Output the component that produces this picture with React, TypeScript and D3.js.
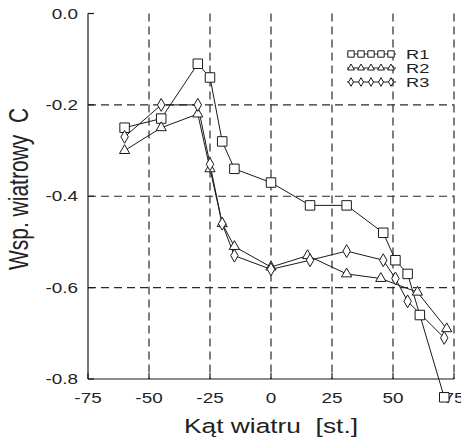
import React, { useEffect, useRef } from "react";
import * as d3 from "d3";

const xTicks = [-75, -50, -25, 0, 25, 50, 75];
const yTicks = [0, -0.2, -0.4, -0.6, -0.8];
const seriesNames = ["R1", "R2", "R3"];

const r1X = [-60, -45, -30, -25, -20, -15, 0, 16, 31, 46, 51, 56, 61, 71];
const r1Y = [-0.25, -0.23, -0.11, -0.14, -0.28, -0.34, -0.37, -0.42, -0.42, -0.48, -0.54, -0.57, -0.66, -0.84];
const r2X = [-60, -45, -30, -25, -20, -15, 0, 15, 31, 45, 60, 72];
const r2Y = [-0.3, -0.25, -0.22, -0.34, -0.46, -0.51, -0.555, -0.53, -0.57, -0.58, -0.61, -0.69];
const r3X = [-60, -45, -30, -25, -20, -15, 0, 16, 31, 46, 51, 56, 71];
const r3Y = [-0.27, -0.2, -0.2, -0.33, -0.46, -0.53, -0.56, -0.54, -0.52, -0.54, -0.58, -0.63, -0.71];

const FONT = "Arial, 'Liberation Sans', sans-serif";
const SX = 1.35; // reference text is stretched horizontally

const App = () => {
  const ref = useRef<SVGSVGElement>(null);

  useEffect(() => {
    const svg = d3.select(ref.current);
    svg.selectAll("*").remove();

    const left = 88, right = 454, top = 13.5, bottom = 379;
    const x = d3.scaleLinear().domain([-75, 75]).range([left, right]);
    const y = d3.scaleLinear().domain([-0.8, 0]).range([bottom, top]);
    const ink = "#1a1a1a";

    // grid
    const grid = svg.append("g").attr("stroke", "#2a2a2a").attr("stroke-width", 1.2).attr("stroke-dasharray", "8,5");
    grid.selectAll("line.v").data(xTicks.filter((t) => t > -75)).enter().append("line")
      .attr("x1", (d) => x(d)).attr("x2", (d) => x(d)).attr("y1", top).attr("y2", bottom);
    grid.selectAll("line.h").data(yTicks.filter((t) => t < 0 && t > -0.8)).enter().append("line")
      .attr("x1", left).attr("x2", right).attr("y1", (d) => y(d)).attr("y2", (d) => y(d));

    // axes
    const ax = svg.append("g").attr("stroke", ink).attr("stroke-width", 1.2);
    ax.append("line").attr("x1", left).attr("x2", left).attr("y1", top).attr("y2", bottom);
    ax.append("line").attr("x1", left).attr("x2", right).attr("y1", bottom).attr("y2", bottom);
    ax.selectAll("line.yt").data(yTicks).enter().append("line")
      .attr("x1", left).attr("x2", left + 6).attr("y1", (d) => y(d)).attr("y2", (d) => y(d));
    ax.selectAll("line.xt").data(xTicks).enter().append("line")
      .attr("x1", (d) => x(d)).attr("x2", (d) => x(d)).attr("y1", bottom).attr("y2", bottom - 6);

    const txt = (tx: number, ty: number, s: string, size: number, anchor: string, rot = 0) =>
      svg.append("text")
        .attr("transform", `translate(${tx},${ty}) scale(${SX},1)` + (rot ? ` rotate(${rot})` : ""))
        .attr("text-anchor", anchor)
        .style("font-family", FONT)
        .style("font-size", `${size}px`)
        .style("white-space", "pre")
        .style("fill", "#222")
        .text(s);

    yTicks.forEach((t) => txt(78, y(t) + 5, t.toFixed(1), 14, "end"));
    xTicks.forEach((t) => txt(x(t), 403, String(t), 14, "middle"));
    txt(271, 433, "Kąt wiatru  [st.]", 19.5, "middle");
    txt(28, 189, "Wsp. wiatrowy  C", 21, "middle", -90);

    const series = [
      { xs: r1X, ys: r1Y, sym: d3.symbolSquare, size: 90 },
      { xs: r2X, ys: r2Y, sym: d3.symbolTriangle, size: 45 },
      { xs: r3X, ys: r3Y, sym: d3.symbolDiamond, size: 48 },
    ];
    const line = d3.line<[number, number]>().x((d) => x(d[0])).y((d) => y(d[1]));

    series.forEach((s) => {
      const pts = s.xs.map((v, i) => [v, s.ys[i]] as [number, number]);
      svg.append("path").attr("d", line(pts)).attr("fill", "none").attr("stroke", ink).attr("stroke-width", 1);
    });
    series.forEach((s) => {
      const pts = s.xs.map((v, i) => [v, s.ys[i]] as [number, number]);
      svg.append("g").selectAll("path").data(pts).enter().append("path")
        .attr("transform", (d) => `translate(${x(d[0])},${y(d[1])})`)
        .attr("d", d3.symbol().type(s.sym).size(s.size)())
        .attr("fill", "white").attr("stroke", ink).attr("stroke-width", 1);
    });

    // legend
    const lg = svg.append("g");
    series.forEach((s, i) => {
      const ly = 54 + i * 14;
      lg.append("line").attr("x1", 347).attr("x2", 396).attr("y1", ly).attr("y2", ly)
        .attr("stroke", ink).attr("stroke-width", 1);
      d3.range(5).forEach((k) => {
        lg.append("path").attr("transform", `translate(${351 + k * 10},${ly})`)
          .attr("d", d3.symbol().type(s.sym).size(s.size * 0.45)())
          .attr("fill", "white").attr("stroke", ink).attr("stroke-width", 1);
      });
      txt(406, ly + 5, seriesNames[i], 13.5, "start");
    });
  }, []);

  return (
    <div style={{ position: "absolute", left: 0, top: 0 }}>
      <svg ref={ref} width={461} height={442} style={{ display: "block", background: "white" }} />
    </div>
  );
};

export default App;
